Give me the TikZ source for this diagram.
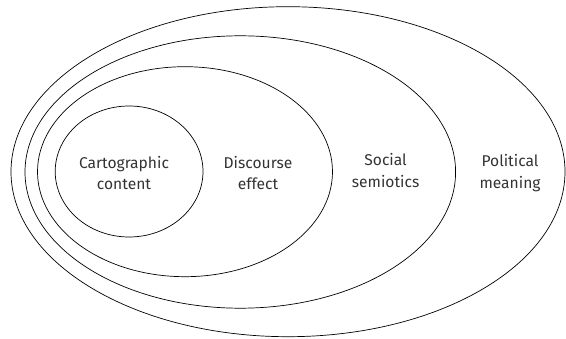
\documentclass[tikz,border=0pt]{standalone}
\usepackage{fontspec}
\setmainfont{Fira Sans}
\begin{document}
\begin{tikzpicture}[line cap=round, line join=round, x=1pt, y=-1pt, line width=0.7pt]
			\tikzset{label style/.style={font=\fontsize{15.6}{21.5}\selectfont, align=center, text=black!80}}
			\useasboundingbox (0,0) rectangle (566,339);
			\draw (288,171.7) ellipse [x radius=277, y radius=165];
			\draw (240.3,172) ellipse [x radius=215.3, y radius=136.2];
			\draw (185,171.7) ellipse [x radius=147.5, y radius=105];
			\draw (129.1,171.5) ellipse [x radius=73.9, y radius=65.5];
			\node[label style] (carto) at (124,173) {Cartographic\\content};
			\node[label style] (disc) at (258,173) {Discourse\\effect};
			\node[label style] (social) at (385.6,170.5) {Social\\semiotics};
			\node[label style] (polit) at (510,173) {Political\\meaning};
		\end{tikzpicture}
\end{document}
